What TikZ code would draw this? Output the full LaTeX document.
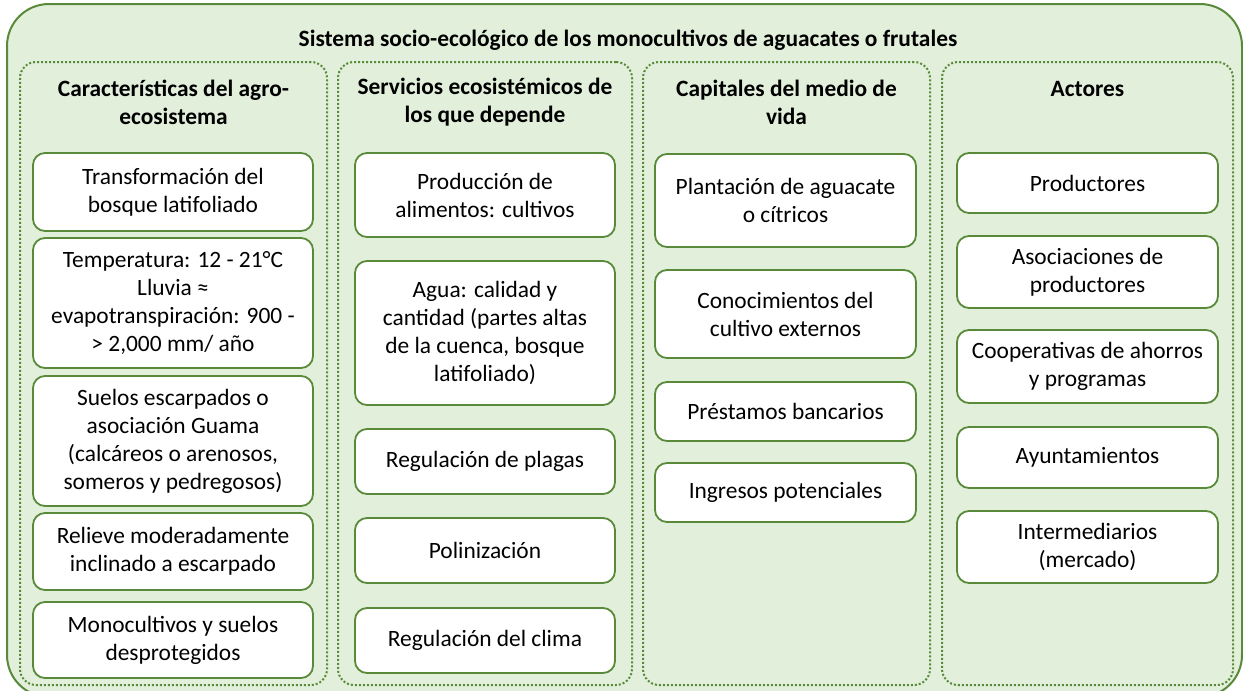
\documentclass[tikz,border=0pt]{standalone}
\usepackage{fontspec}
\setmainfont{Carlito}
\usetikzlibrary{positioning}
\definecolor{verdeBorde}{RGB}{88,138,58}
\definecolor{verdeFondo}{HTML}{E2EFDA}

\begin{document}
\begin{tikzpicture}[
    x=1pt, y=-1pt,
    marco/.style={draw=verdeBorde, line width=2pt, fill=verdeFondo, rounded corners=42pt},
    columna/.style={rectangle, draw=verdeBorde, line width=2pt, dash pattern=on 2pt off 2pt, rounded corners=16pt, inner sep=0pt},
    caja/.style={rectangle, draw=verdeBorde, line width=1.8pt, fill=white, rounded corners=12pt, align=center, inner sep=2pt, font=\fontsize{23.4}{28}\selectfont},
    encabezado/.style={align=center, inner sep=0pt, font=\fontsize{23.4}{28}\selectfont\bfseries}
]
    \useasboundingbox (0,0) rectangle (1243,691);

    % Outer frame and title
    \draw[marco] (7,4) rectangle (1242,697);
    \node[encabezado] (titulo) at (628,40) {Sistema socio-ecológico de los monocultivos de aguacates o frutales};

    % Columns
    \node[columna, minimum width=307pt, minimum height=623pt] (colAgro) at (173.5,373.5) {};
    \node[columna, minimum width=294pt, minimum height=623pt] (colServ) at (485,373.5) {};
    \node[columna, minimum width=287pt, minimum height=623pt] (colCap) at (786.5,373.5) {};
    \node[columna, minimum width=291pt, minimum height=623pt] (colAct) at (1087.5,373.5) {};

    % Column headers
    \node[encabezado] (hAgro) at (173.5,102) {Características del agro-\\ecosistema};
    \node[encabezado] (hServ) at (485,102) {Servicios ecosistémicos de\\los que depende};
    \node[encabezado] (hCap) at (786.5,102) {Capitales del medio de\\vida};
    \node[encabezado] (hAct) at (1087.5,89) {Actores};

    % Agro-ecosystem
    \node[caja, minimum width=280pt, minimum height=78pt] (transf) at (173,192) {Transformación del\\bosque latifoliado};
    \node[caja, minimum width=280pt, minimum height=130pt] (clima) at (173,303) {Temperatura: 12 - 21°C\\Lluvia ≈\\evapotranspiración: 900 -\\> 2,000 mm/ año};
    \node[caja, minimum width=280pt, minimum height=130pt] (suelos) at (173,441) {Suelos escarpados o\\asociación Guama\\(calcáreos o arenosos,\\someros y pedregosos)};
    \node[caja, minimum width=280pt, minimum height=77pt] (relieve) at (173,551.5) {Relieve moderadamente\\inclinado a escarpado};
    \node[caja, minimum width=280pt, minimum height=76pt] (monoc) at (173,640) {Monocultivos y suelos\\desprotegidos};

    % Ecosystem services
    \node[caja, minimum width=260pt, minimum height=84pt] (prod) at (485,195) {Producción de\\alimentos: cultivos};
    \node[caja, minimum width=260pt, minimum height=144pt] (agua) at (485,333) {Agua: calidad y\\cantidad (partes altas\\de la cuenca, bosque\\latifoliado)};
    \node[caja, minimum width=260pt, minimum height=65pt] (plagas) at (485,461.5) {Regulación de plagas};
    \node[caja, minimum width=260pt, minimum height=65pt] (polin) at (485,550.5) {Polinización};
    \node[caja, minimum width=260pt, minimum height=65pt] (regclima) at (485,640.5) {Regulación del clima};

    % Livelihood capitals
    \node[caja, minimum width=261pt, minimum height=93pt] (plant) at (785.5,200.5) {Plantación de aguacate\\o cítricos};
    \node[caja, minimum width=261pt, minimum height=88pt] (conoc) at (785.5,314) {Conocimientos del\\cultivo externos};
    \node[caja, minimum width=261pt, minimum height=59pt] (prest) at (785.5,411.5) {Préstamos bancarios};
    \node[caja, minimum width=261pt, minimum height=59pt] (ingr) at (785.5,492.5) {Ingresos potenciales};

    % Actors
    \node[caja, minimum width=261pt, minimum height=60pt] (produc) at (1087.5,183) {Productores};
    \node[caja, minimum width=261pt, minimum height=72pt] (asoc) at (1087.5,272) {Asociaciones de\\productores};
    \node[caja, minimum width=261pt, minimum height=73pt] (coop) at (1087.5,366.5) {Cooperativas de ahorros\\y programas};
    \node[caja, minimum width=261pt, minimum height=61pt] (ayunt) at (1087.5,457.5) {Ayuntamientos};
    \node[caja, minimum width=261pt, minimum height=72pt] (interm) at (1087.5,547) {Intermediarios\\(mercado)};

\end{tikzpicture}
\end{document}
